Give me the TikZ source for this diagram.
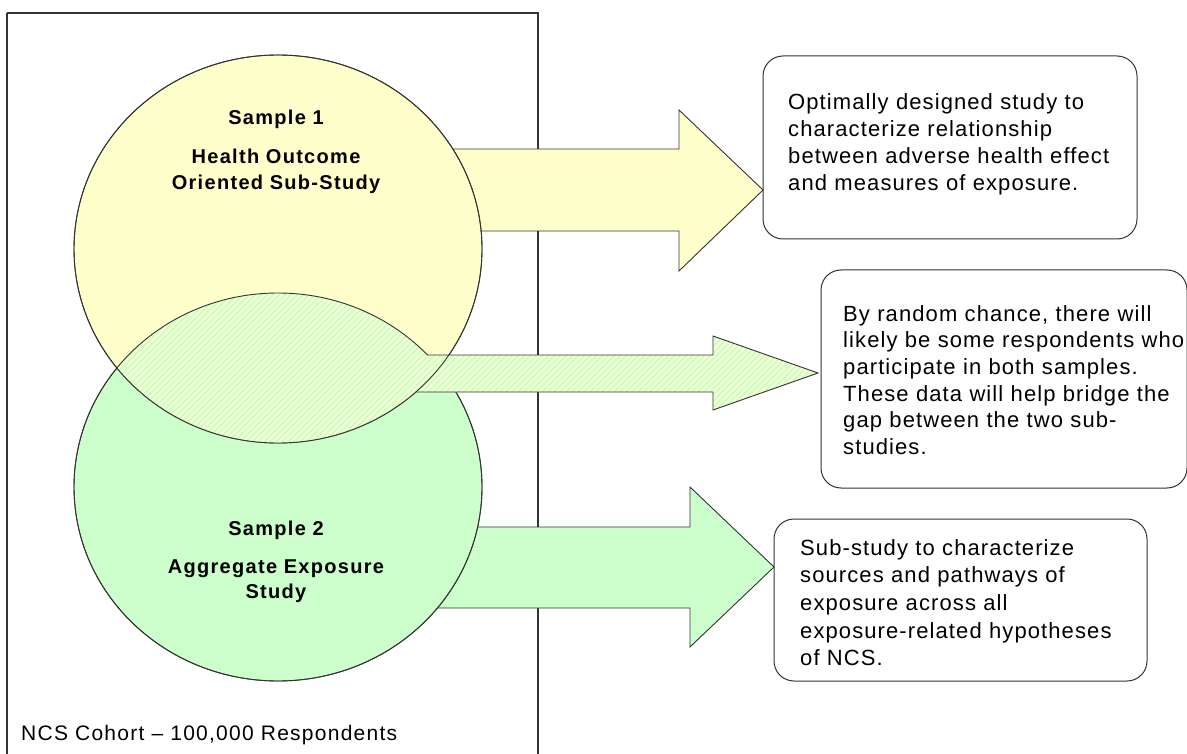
\documentclass[tikz,border=0pt]{standalone}
\usepackage{fontspec}
\setmainfont{Liberation Sans}
\newfontfamily\boxfont[LetterSpace=5]{Liberation Sans}
\newfontfamily\capfont[LetterSpace=6]{Liberation Sans}
\newfontfamily\circfont[LetterSpace=6.5]{Liberation Sans Bold}
\definecolor{paleyellow}{HTML}{FFFFCC}
\definecolor{palegreen}{HTML}{CCFFCC}
\definecolor{edge}{HTML}{333333}
\tikzset{
  outline/.style={draw=edge, line width=0.9pt},
  cohort/.style={draw=edge, line width=1.3pt},
  notebox/.style={draw=edge, line width=1pt, rounded corners=20pt},
  circtext/.style={inner sep=0pt, anchor=base, text width=260pt, align=center,
    font=\circfont\fontsize{20}{25.5}\selectfont},
  notetext/.style={inner sep=0pt, anchor=base west, text width=360pt, align=left,
    font=\boxfont\fontsize{22}{26.7}\selectfont},
  stripe/.style={draw=palegreen, line width=2.4pt}
}
\begin{document}
\begin{tikzpicture}[x=1pt, y=-1pt]
\useasboundingbox (0,0) rectangle (1187,754);

% cohort frame, running off the bottom edge
\draw[cohort] (7,13) -- (538,13) -- (538,760) (7,13) -- (7,760);

% block arrows leaving the two samples
\draw[outline, fill=paleyellow] (400,149) -- (679,149) -- (679,110) -- (763,190)
  -- (679,271) -- (679,231) -- (400,231) -- cycle;
\draw[outline, fill=palegreen] (400,527) -- (690,527) -- (690,487) -- (774,567)
  -- (690,647) -- (690,608) -- (400,608) -- cycle;

% the two samples
\draw[outline, fill=palegreen] (278,487) ellipse [x radius=204, y radius=194];
\draw[outline, fill=paleyellow] (278,249) ellipse [x radius=204, y radius=194];

% overlap of the two samples, striped
\begin{scope}
  \clip (278,487) ellipse [x radius=204, y radius=194];
  \clip (278,249) ellipse [x radius=204, y radius=194];
  \fill[paleyellow] (60,280) rectangle (500,460);
  \foreach \c in {340,346,...,960} \draw[stripe] ({\c-270},270) -- ({\c-470},470);
\end{scope}
\draw[outline] (278,487) ellipse [x radius=204, y radius=194];

% striped arrow from the overlap
\begin{scope}
  \clip (400,355) -- (713,355) -- (713,336) -- (818,373) -- (713,410)
    -- (713,392) -- (400,392) -- cycle;
  \fill[paleyellow] (395,330) rectangle (825,415);
  \foreach \c in {700,706,...,1260} \draw[stripe] ({\c-320},320) -- ({\c-430},430);
\end{scope}
\draw[outline] (427,355) -- (713,355) -- (713,336) -- (818,373) -- (713,410)
  -- (713,392) -- (416,392);
\draw[outline] (278,249) ellipse [x radius=204, y radius=194];

% sample labels
\node[circtext] (s1) at (276,125) {Sample 1};
\node[circtext] (s1t) at (276,164) {Health Outcome\\Oriented Sub-Study};
\node[circtext] (s2) at (276,535) {Sample 2};
\node[circtext] (s2t) at (276,573) {Aggregate Exposure\\Study};

% note boxes
\draw[notebox] (763,56) rectangle (1137,239);
\draw[notebox] (821,270) rectangle (1187,488);
\draw[notebox] (774,519) rectangle (1147,681);

\node[notetext] (n1) at (788,110) {Optimally designed study to\\characterize relationship\\between adverse health effect\\and measures of exposure.};
\node[notetext] (n2) at (843,321) {By random chance, there will\\likely be some respondents who\\participate in both samples.\\These data will help bridge the\\gap between the two sub-\\studies.};
\node[notetext, font=\boxfont\fontsize{22}{27.7}\selectfont] (n3) at (800,555) {Sub-study to characterize\\sources and pathways of\\exposure across all\\exposure-related hypotheses\\of NCS.};

% cohort caption
\node[inner sep=0pt, anchor=base west, font=\capfont\fontsize{21}{24}\selectfont] (cap) at (21,740) {NCS Cohort – 100,000 Respondents};
\end{tikzpicture}
\end{document}
